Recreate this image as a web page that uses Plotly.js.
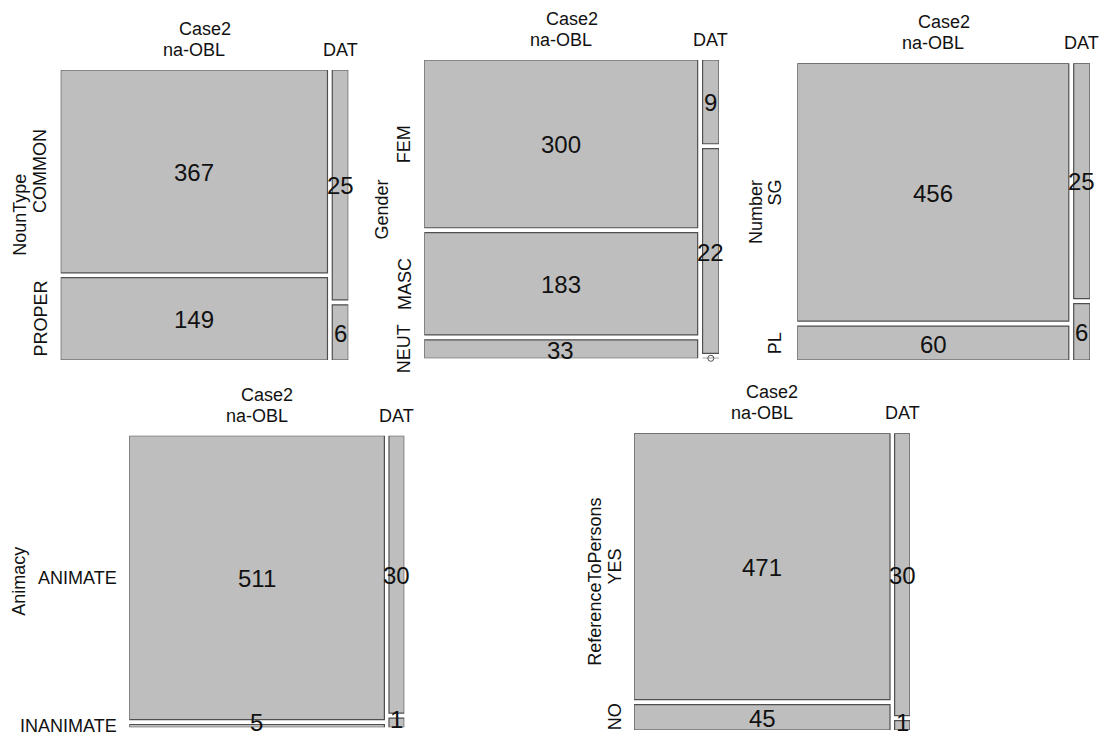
<!DOCTYPE html>
<html><head><meta charset="utf-8">
<script src="https://cdn.plot.ly/plotly-3.0.1.min.js"></script>
<style>html,body{margin:0;padding:0;background:#fff}</style>
</head><body><div id="chart" style="width:1101px;height:738px"></div>
<script>
// ---- data ----
const colVar = "Case2";
const colLabels = ["na-OBL", "DAT"];

const nounTypeLevels = ["COMMON", "PROPER"];
const nounTypeNaOBL = [367, 149];
const nounTypeDAT = [25, 6];

const genderLevels = ["FEM", "MASC", "NEUT"];
const genderNaOBL = [300, 183, 33];
const genderDAT = [9, 22, 0];

const numberLevels = ["SG", "PL"];
const numberNaOBL = [456, 60];
const numberDAT = [25, 6];

const animacyLevels = ["ANIMATE", "INANIMATE"];
const animacyNaOBL = [511, 5];
const animacyDAT = [30, 1];

const refLevels = ["YES", "NO"];
const refNaOBL = [471, 45];
const refDAT = [30, 1];

// ---- layout / drawing ----
const W = 1101, H = 738, GAP = 0.017;
const FILL = '#BEBEBE', EDGE = '#4f4f4f';
const FONT = 'Liberation Sans, Arial, sans-serif';
const panels = [
  {rowVar: "NounType", levels: nounTypeLevels, cols: [nounTypeNaOBL, nounTypeDAT], px: [60.7, 348.3], py: [70, 360], rot: true, lab: -20, vlab: -41},
  {rowVar: "Gender", levels: genderLevels, cols: [genderNaOBL, genderDAT], px: [424.3, 719], py: [60, 358.3], rot: true, lab: -20, vlab: -42},
  {rowVar: "Number", levels: numberLevels, cols: [numberNaOBL, numberDAT], px: [797.3, 1090], py: [63.3, 360], rot: true, lab: -22, vlab: -42},
  {rowVar: "Animacy", levels: animacyLevels, cols: [animacyNaOBL, animacyDAT], px: [129.3, 404.3], py: [435.7, 727.3], rot: false, lab: -10, vlab: -111},
  {rowVar: "ReferenceToPersons", levels: refLevels, cols: [refNaOBL, refDAT], px: [634, 910], py: [433.3, 730], rot: true, lab: -19, vlab: -39}
];

const traces = [], shapes = [], annotations = [];
const layout = {
  width: W, height: H, margin: {l: 0, r: 0, t: 0, b: 0},
  paper_bgcolor: '#ffffff', plot_bgcolor: 'rgba(0,0,0,0)', showlegend: false,
  font: {family: FONT, color: '#111', size: 18},
  shapes: shapes, annotations: annotations, hovermode: false
};

panels.forEach((p, k) => {
  const id = k === 0 ? '' : String(k + 1);
  const xa = 'x' + id, ya = 'y' + id;
  const colTot = p.cols.map(c => c.reduce((a, b) => a + b, 0));
  const grand = colTot.reduce((a, b) => a + b, 0);
  const nR = p.levels.length, nC = p.cols.length;
  const xMax = 1 + (nC - 1) * GAP, yMax = 1 + (nR - 1) * GAP;
  layout['xaxis' + id] = {domain: [p.px[0] / W, p.px[1] / W], range: [0, xMax], visible: false, fixedrange: true, anchor: ya};
  layout['yaxis' + id] = {domain: [1 - p.py[1] / H, 1 - p.py[0] / H], range: [yMax, 0], visible: false, fixedrange: true, anchor: xa};
  const nearBottom = (H - p.py[1]) < 20;

  const tx = [], ty = [], zx = [], zy = [];
  const rowCenters = [];
  let x0 = 0;
  p.cols.forEach((col, j) => {
    const x1 = x0 + colTot[j] / grand;
    let y0 = 0;
    col.forEach((v, i) => {
      const y1 = y0 + v / colTot[j];
      if (j === 0) rowCenters.push((y0 + y1) / 2);
      if (v > 0) {
        shapes.push({type: 'rect', xref: xa, yref: ya, x0: x0, x1: x1, y0: y0, y1: y1,
          fillcolor: FILL, line: {color: EDGE, width: 1.2}, layer: 'below'});
        tx.push((x0 + x1) / 2); ty.push((y0 + y1) / 2);
        const thinLast = nearBottom && i === col.length - 1 && (v / colTot[j]) < 0.06;
        annotations.push({xref: xa, yref: ya, x: (x0 + x1) / 2, y: (y0 + y1) / 2, yshift: thinLast ? 3 : -1,
          text: String(v), showarrow: false, xanchor: 'center', yanchor: 'middle', borderpad: 0,
          font: {size: 24, color: '#111', family: FONT}});
      } else {
        shapes.push({type: 'line', xref: xa, yref: ya, x0: x0, x1: x1, y0: y0, y1: y0,
          line: {color: EDGE, width: 1.2}, layer: 'below'});
        zx.push((x0 + x1) / 2); zy.push(y0);
      }
      y0 = y1 + GAP;
    });
    annotations.push({xref: xa, yref: ya + ' domain', x: (x0 + x1) / 2, y: 1, yshift: 20,
      text: colLabels[j], showarrow: false, xanchor: 'center', yanchor: 'middle'});
    x0 = x1 + GAP;
  });
  // column variable name
  annotations.push({xref: xa + ' domain', yref: ya + ' domain', x: 0.5, y: 1, yshift: 41,
    text: colVar, showarrow: false, xanchor: 'center', yanchor: 'middle'});
  // row labels
  p.levels.forEach((lv, i) => {
    if (p.rot) {
      annotations.push({xref: xa + ' domain', yref: ya, x: 0, xshift: p.lab, y: rowCenters[i],
        text: lv, showarrow: false, textangle: -90, xanchor: 'center', yanchor: 'middle'});
    } else {
      annotations.push({xref: xa + ' domain', yref: ya, x: 0, xshift: p.lab, y: rowCenters[i],
        text: lv, showarrow: false, xanchor: 'right', yanchor: 'middle'});
    }
  });
  annotations.push({xref: xa + ' domain', yref: ya + ' domain', x: 0, xshift: p.vlab, y: 0.5,
    text: p.rowVar, showarrow: false, textangle: -90, xanchor: 'center', yanchor: 'middle'});

  // invisible anchor trace at cell centres so each subplot exists
  traces.push({type: 'scatter', mode: 'markers', xaxis: xa, yaxis: ya, x: tx, y: ty,
    marker: {size: 1, opacity: 0}, cliponaxis: false, hoverinfo: 'skip'});
  if (zx.length) {
    traces.push({type: 'scatter', mode: 'markers', xaxis: xa, yaxis: ya, x: zx, y: zy,
      marker: {symbol: 'circle-open', size: 6, color: EDGE, line: {width: 1, color: EDGE}},
      cliponaxis: false, hoverinfo: 'skip'});
  }
});

Plotly.newPlot('chart', traces, layout, {staticPlot: true, displayModeBar: false});
</script>
</body></html>
